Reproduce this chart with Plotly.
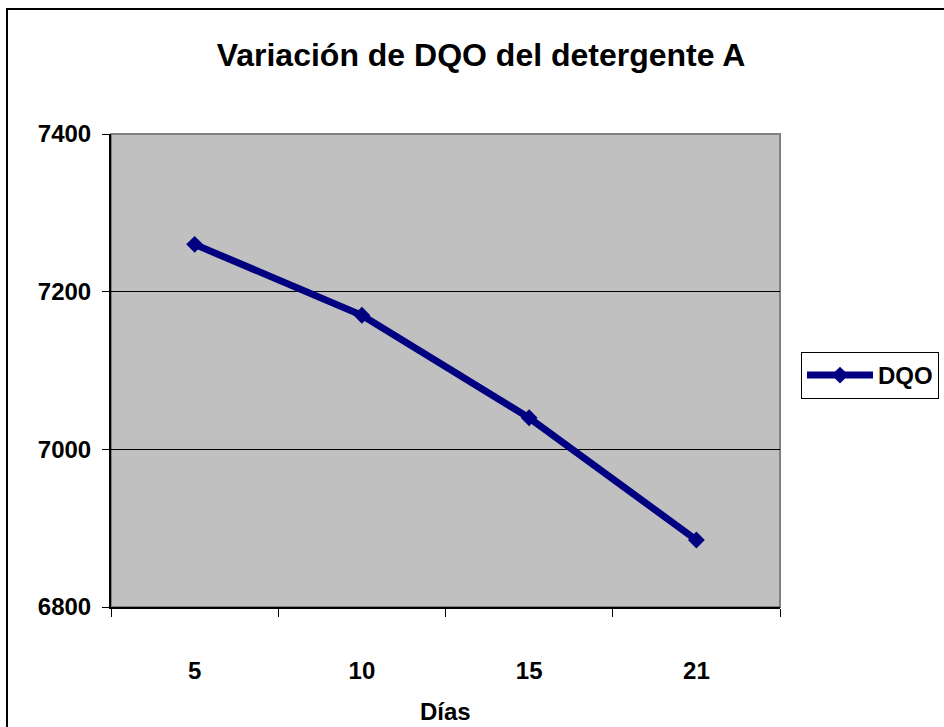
import plotly.graph_objects as go

dias = ["5", "10", "15", "21"]
dqo = [7260, 7170, 7040, 6885]
y_ticks = [6800, 7000, 7200, 7400]

W, H = 944, 727
L, R, T, B = 111, 780, 134, 607

FONT = "Arial, Liberation Sans, sans-serif"

fig = go.Figure()
fig.add_trace(go.Scatter(
    x=dias, y=dqo, mode="lines+markers", name="<b>DQO</b>",
    line=dict(color="#000080", width=7),
    marker=dict(symbol="diamond", size=13, color="#000080"),
))

def px_x(px):
    return (px - L) / (R - L)

def px_y(py):
    return (B - py) / (B - T)

fig.update_layout(
    width=W, height=H,
    margin=dict(l=L, r=W - R, t=T, b=H - B, pad=0, autoexpand=False),
    paper_bgcolor="white",
    plot_bgcolor="#C0C0C0",
    font=dict(family=FONT, color="black", size=24),
    title=dict(
        text="<b>Variación de DQO del detergente A</b>",
        x=481 / W, xanchor="center", xref="container",
        y=1 - 55 / H, yanchor="middle", yref="container",
        font=dict(size=32, family=FONT, color="black"),
    ),
    showlegend=True,
    legend=dict(
        x=px_x(801), xanchor="left", y=px_y(352), yanchor="top",
        bordercolor="black", borderwidth=1, bgcolor="white",
        font=dict(size=24, family=FONT, color="black"),
        itemwidth=66, tracegroupgap=0,
    ),
    xaxis=dict(
        type="category", range=[-0.5, 3.5],
        showgrid=False, zeroline=False,
        showline=True, linecolor="black", linewidth=2,
        ticks="outside", ticklen=8, tickcolor="black", tickwidth=1,
        tickson="boundaries",
        tickfont=dict(size=24, family=FONT, color="black"),
        ticklabelstandoff=41,
        tickprefix="<b>", ticksuffix="</b>",
    ),
    yaxis=dict(
        range=[6800, 7400], tickvals=y_ticks,
        ticktext=[f"<b>{v}</b>" for v in y_ticks],
        showgrid=True, gridcolor="black", gridwidth=1, zeroline=False,
        showline=True, linecolor="black", linewidth=2,
        ticks="outside", ticklen=7, tickcolor="black", tickwidth=1,
        tickfont=dict(size=24, family=FONT, color="black"),
        ticklabelstandoff=6,
    ),
    shapes=[
        dict(type="rect", xref="paper", yref="paper",
             x0=0, x1=1, y0=0, y1=1,
             line=dict(color="#808080", width=2), fillcolor="rgba(0,0,0,0)",
             layer="below"),
        dict(type="rect", xref="paper", yref="paper",
             x0=px_x(7), x1=px_x(960), y0=px_y(745), y1=px_y(9),
             line=dict(color="black", width=2), fillcolor="rgba(0,0,0,0)"),
    ],
    annotations=[
        dict(text="<b>Días</b>", xref="paper", yref="paper",
             x=0.5, y=px_y(711), xanchor="center", yanchor="middle",
             showarrow=False, font=dict(size=24, family=FONT, color="black")),
    ],
)

fig.write_html(
    "out.html",
    config={"displayModeBar": False},
    post_script="document.body.style.margin='0';document.body.style.padding='0';"
                "document.body.style.overflow='hidden';",
)
